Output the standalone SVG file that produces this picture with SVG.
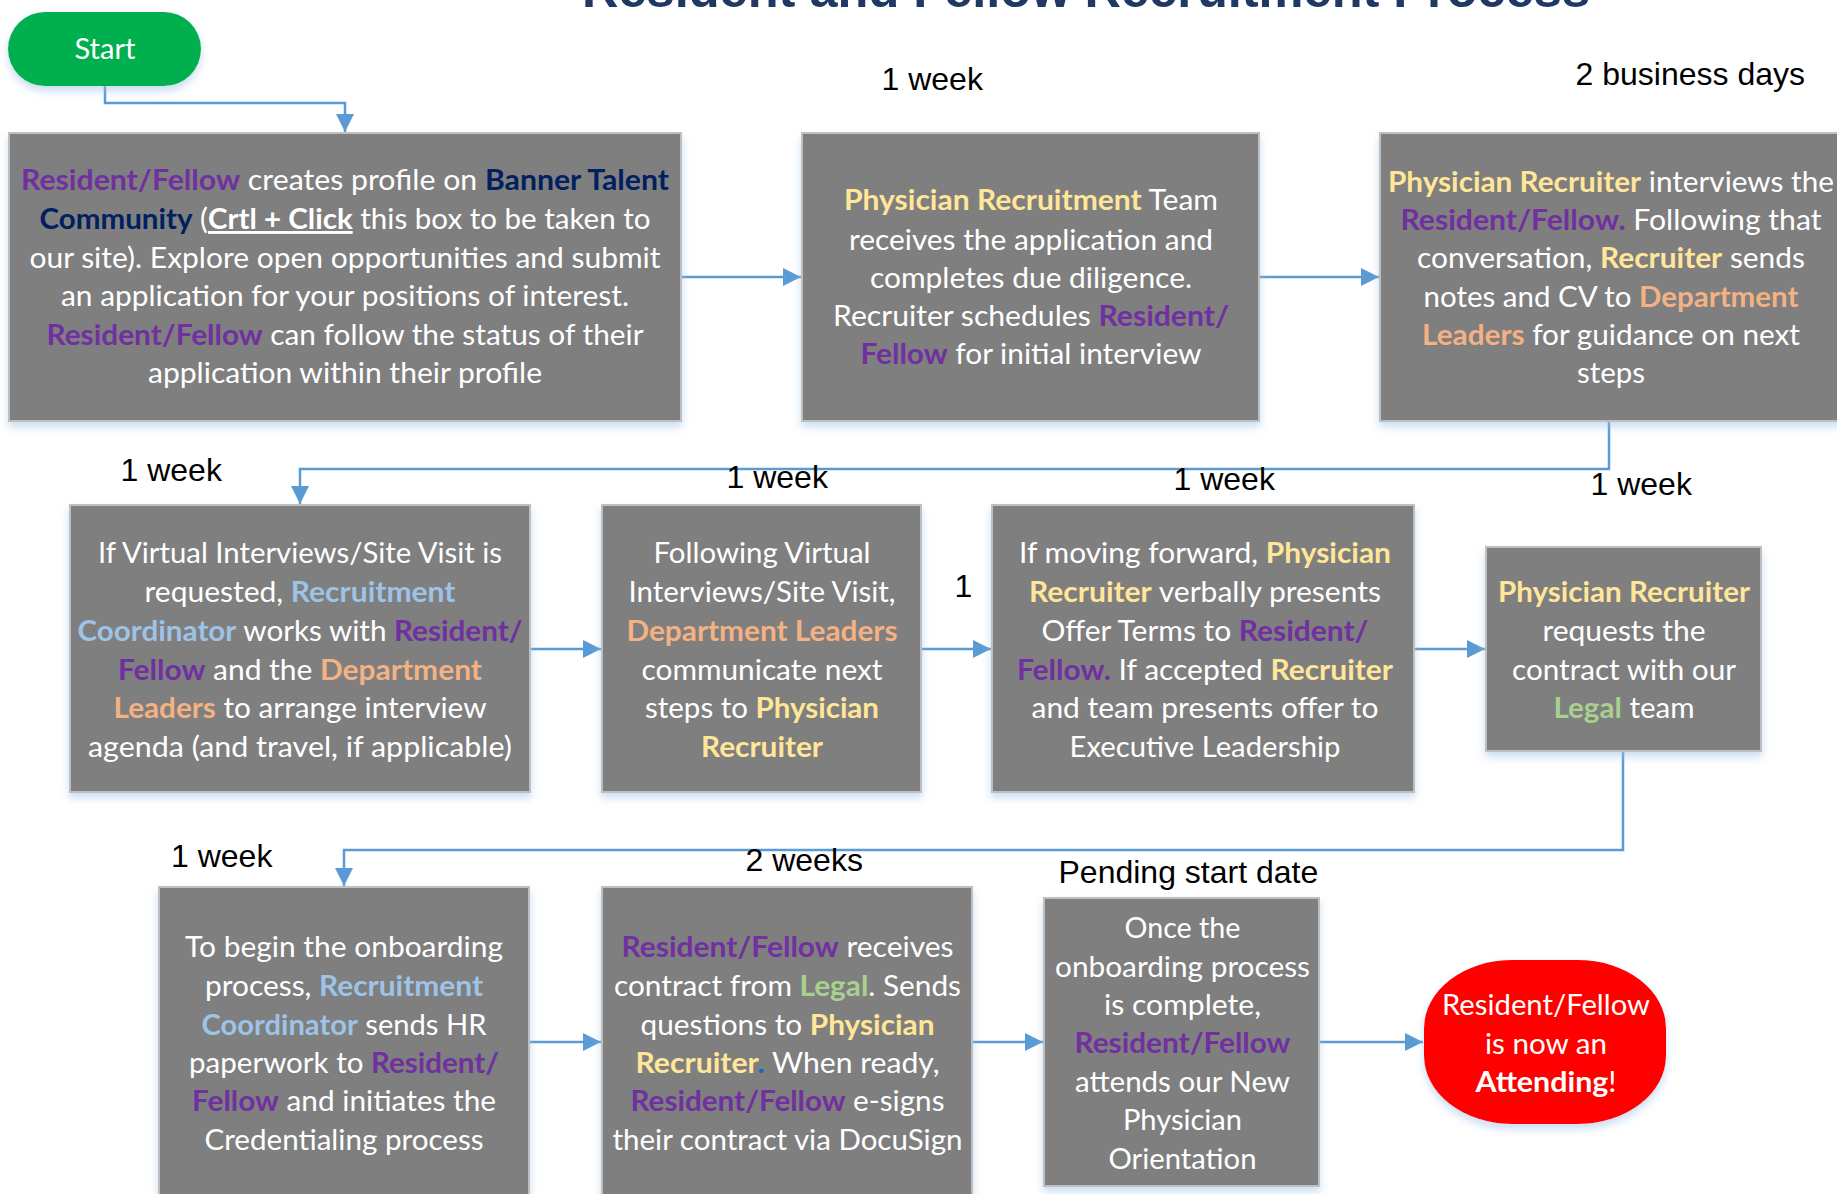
<svg xmlns="http://www.w3.org/2000/svg" width="1837" height="1194" viewBox="0 0 1837 1194">
<style>
.bg{fill:#fff}
.box{fill:#7F7F7F;stroke:#BFBFBF;stroke-width:2;filter:url(#sh)}
.t{font-family:Lato,'Noto Sans',sans-serif;font-size:29px;fill:#fff;text-anchor:middle}
.b{font-weight:bold}
.p{fill:#7030A0;font-weight:bold}
.n{fill:#002060;font-weight:bold}
.y{fill:#FFE699;font-weight:bold}
.o{fill:#F4B183;font-weight:bold}
.c{fill:#9DC3E6;font-weight:bold}
.g{fill:#A9D18E;font-weight:bold}
.bl{fill:#0070C0;font-weight:bold}
.u{text-decoration:underline;font-weight:bold}
.lbl{font-family:'Liberation Sans',Arial,sans-serif;font-size:32px;fill:#000}
.con{fill:none;stroke:#5B9BD5;stroke-width:2.5}
.title{font-family:'Liberation Sans',Arial,sans-serif;font-size:50px;font-weight:bold;fill:#1F3864}
</style>
<defs>
<filter id="sh" x="-10%" y="-10%" width="120%" height="130%">
<feDropShadow dx="0" dy="5" stdDeviation="4" flood-color="#9DC3E6" flood-opacity="0.55"/>
</filter>
<marker id="ah" markerUnits="userSpaceOnUse" markerWidth="18" markerHeight="18" refX="18" refY="9" orient="auto">
<path d="M0,0 L18,9 L0,18 z" fill="#5B9BD5"/>
</marker>
</defs>
<rect class="bg" x="0" y="0" width="1837" height="1194"/>
<text class="title" x="1086" y="7" text-anchor="middle" textLength="1008" lengthAdjust="spacingAndGlyphs">Resident and Fellow Recruitment Process</text>

<g id="connectors">
<path class="con" marker-end="url(#ah)" d="M105,86 V103 H345 V132"/>
<path class="con" marker-end="url(#ah)" d="M681,277 H801"/>
<path class="con" marker-end="url(#ah)" d="M1259,277 H1379"/>
<path class="con" marker-end="url(#ah)" d="M1609,421 V469 H300 V504"/>
<path class="con" marker-end="url(#ah)" d="M530,649 H601"/>
<path class="con" marker-end="url(#ah)" d="M921,649 H991"/>
<path class="con" marker-end="url(#ah)" d="M1414,649 H1485"/>
<path class="con" marker-end="url(#ah)" d="M1623,751 V850 H344 V886"/>
<path class="con" marker-end="url(#ah)" d="M529,1042 H601"/>
<path class="con" marker-end="url(#ah)" d="M972,1042 H1043"/>
<path class="con" marker-end="url(#ah)" d="M1319,1042 H1423"/>
</g>

<g id="labels">
<text class="lbl" x="881.5" y="90">1 week</text>
<text class="lbl" x="1575.5" y="85">2 business days</text>
<text class="lbl" x="120.5" y="481">1 week</text>
<text class="lbl" x="726.5" y="488">1 week</text>
<text class="lbl" x="954.5" y="597">1</text>
<text class="lbl" x="1173.5" y="490">1 week</text>
<text class="lbl" x="1590.5" y="495">1 week</text>
<text class="lbl" x="171" y="867">1 week</text>
<text class="lbl" x="745.5" y="871">2 weeks</text>
<text class="lbl" x="1058.5" y="883">Pending start date</text>
</g>

<g id="start">
<rect x="8" y="12" width="193" height="74" rx="37" ry="37" fill="#00B050" filter="url(#sh)"/>
<text class="t" x="105" y="59" textLength="61" lengthAdjust="spacingAndGlyphs">Start</text>
</g>

<g id="step1">
<rect class="box" x="9" y="133" width="672" height="288"/>
<text class="t" x="345" y="190" textLength="648" lengthAdjust="spacingAndGlyphs"><tspan class="p">Resident/Fellow</tspan> creates profile on <tspan class="n">Banner Talent</tspan></text>
<text class="t" x="345" y="229" textLength="611" lengthAdjust="spacingAndGlyphs"><tspan class="n">Community</tspan> (<tspan class="u">Crtl + Click</tspan> this box to be taken to</text>
<text class="t" x="345" y="268" textLength="631" lengthAdjust="spacingAndGlyphs">our site). Explore open opportunities and submit</text>
<text class="t" x="345" y="306" textLength="568" lengthAdjust="spacingAndGlyphs">an application for your positions of interest.</text>
<text class="t" x="345" y="345" textLength="597" lengthAdjust="spacingAndGlyphs"><tspan class="p">Resident/Fellow</tspan> can follow the status of their</text>
<text class="t" x="345" y="383" textLength="394" lengthAdjust="spacingAndGlyphs">application within their profile</text>
</g>

<g id="step2">
<rect class="box" x="802" y="133" width="457" height="288"/>
<text class="t" x="1031" y="210" textLength="374" lengthAdjust="spacingAndGlyphs"><tspan class="y">Physician Recruitment</tspan> Team</text>
<text class="t" x="1031" y="250" textLength="364" lengthAdjust="spacingAndGlyphs">receives the application and</text>
<text class="t" x="1031" y="288" textLength="322" lengthAdjust="spacingAndGlyphs">completes due diligence.</text>
<text class="t" x="1031" y="326" textLength="396" lengthAdjust="spacingAndGlyphs">Recruiter schedules  <tspan class="p">Resident/</tspan></text>
<text class="t" x="1031" y="364" textLength="341" lengthAdjust="spacingAndGlyphs"><tspan class="p">Fellow</tspan> for initial interview</text>
</g>

<g id="step3">
<rect class="box" x="1380" y="133" width="462" height="288"/>
<text class="t" x="1611" y="192" textLength="446" lengthAdjust="spacingAndGlyphs"><tspan class="y">Physician Recruiter</tspan> interviews the</text>
<text class="t" x="1611" y="230" textLength="421" lengthAdjust="spacingAndGlyphs"><tspan class="p">Resident/Fellow.</tspan> Following that</text>
<text class="t" x="1611" y="268" textLength="388" lengthAdjust="spacingAndGlyphs">conversation, <tspan class="y">Recruiter</tspan> sends</text>
<text class="t" x="1611" y="307" textLength="375" lengthAdjust="spacingAndGlyphs">notes and CV to <tspan class="o">Department</tspan></text>
<text class="t" x="1611" y="345" textLength="378" lengthAdjust="spacingAndGlyphs"><tspan class="o">Leaders</tspan> for guidance on next</text>
<text class="t" x="1611" y="383" textLength="68" lengthAdjust="spacingAndGlyphs">steps</text>
</g>

<g id="step4">
<rect class="box" x="70" y="505" width="460" height="287"/>
<text class="t" x="300" y="563" textLength="404" lengthAdjust="spacingAndGlyphs">If Virtual Interviews/Site Visit is</text>
<text class="t" x="300" y="602" textLength="311" lengthAdjust="spacingAndGlyphs">requested, <tspan class="c">Recruitment</tspan></text>
<text class="t" x="300" y="641" textLength="445" lengthAdjust="spacingAndGlyphs"><tspan class="c">Coordinator</tspan> works with <tspan class="p">Resident/</tspan></text>
<text class="t" x="300" y="680" textLength="364" lengthAdjust="spacingAndGlyphs"><tspan class="p">Fellow</tspan> and the <tspan class="o">Department</tspan></text>
<text class="t" x="300" y="718" textLength="373" lengthAdjust="spacingAndGlyphs"><tspan class="o">Leaders</tspan> to arrange interview</text>
<text class="t" x="300" y="757" textLength="424" lengthAdjust="spacingAndGlyphs">agenda (and travel, if applicable)</text>
</g>

<g id="step5">
<rect class="box" x="602" y="505" width="319" height="287"/>
<text class="t" x="762" y="563" textLength="217" lengthAdjust="spacingAndGlyphs">Following Virtual</text>
<text class="t" x="762" y="602" textLength="267" lengthAdjust="spacingAndGlyphs">Interviews/Site Visit,</text>
<text class="t" x="762" y="641" textLength="271" lengthAdjust="spacingAndGlyphs"><tspan class="o">Department Leaders</tspan></text>
<text class="t" x="762" y="680" textLength="241" lengthAdjust="spacingAndGlyphs">communicate next</text>
<text class="t" x="762" y="718" textLength="234" lengthAdjust="spacingAndGlyphs">steps to <tspan class="y">Physician</tspan></text>
<text class="t" x="762" y="757" textLength="122" lengthAdjust="spacingAndGlyphs"><tspan class="y">Recruiter</tspan></text>
</g>

<g id="step6">
<rect class="box" x="992" y="505" width="422" height="287"/>
<text class="t" x="1205" y="563" textLength="372" lengthAdjust="spacingAndGlyphs">If moving forward, <tspan class="y">Physician</tspan></text>
<text class="t" x="1205" y="602" textLength="352" lengthAdjust="spacingAndGlyphs"><tspan class="y">Recruiter</tspan> verbally presents</text>
<text class="t" x="1205" y="641" textLength="327" lengthAdjust="spacingAndGlyphs">Offer Terms to <tspan class="p">Resident/</tspan></text>
<text class="t" x="1205" y="680" textLength="376" lengthAdjust="spacingAndGlyphs"><tspan class="p">Fellow.</tspan> If accepted <tspan class="y">Recruiter</tspan></text>
<text class="t" x="1205" y="718" textLength="347" lengthAdjust="spacingAndGlyphs">and team presents offer to</text>
<text class="t" x="1205" y="757" textLength="271" lengthAdjust="spacingAndGlyphs">Executive Leadership</text>
</g>

<g id="step7">
<rect class="box" x="1486" y="547" width="275" height="204"/>
<text class="t" x="1624" y="602" textLength="252" lengthAdjust="spacingAndGlyphs"><tspan class="y">Physician Recruiter</tspan></text>
<text class="t" x="1624" y="641" textLength="163" lengthAdjust="spacingAndGlyphs">requests the</text>
<text class="t" x="1624" y="680" textLength="224" lengthAdjust="spacingAndGlyphs">contract with our</text>
<text class="t" x="1624" y="718" textLength="141" lengthAdjust="spacingAndGlyphs"><tspan class="g">Legal</tspan> team</text>
</g>

<g id="step8">
<rect class="box" x="159" y="887" width="370" height="320"/>
<text class="t" x="344" y="957" textLength="318" lengthAdjust="spacingAndGlyphs">To begin the onboarding</text>
<text class="t" x="344" y="996" textLength="278" lengthAdjust="spacingAndGlyphs">process, <tspan class="c">Recruitment</tspan></text>
<text class="t" x="344" y="1035" textLength="285" lengthAdjust="spacingAndGlyphs"><tspan class="c">Coordinator</tspan> sends HR</text>
<text class="t" x="344" y="1073" textLength="310" lengthAdjust="spacingAndGlyphs">paperwork to <tspan class="p">Resident/</tspan></text>
<text class="t" x="344" y="1111" textLength="304" lengthAdjust="spacingAndGlyphs"><tspan class="p">Fellow</tspan> and initiates the</text>
<text class="t" x="344" y="1150" textLength="279" lengthAdjust="spacingAndGlyphs">Credentialing process</text>
</g>

<g id="step9">
<rect class="box" x="602" y="887" width="370" height="320"/>
<text class="t" x="787.5" y="957" textLength="332" lengthAdjust="spacingAndGlyphs"><tspan class="p">Resident/Fellow</tspan> receives</text>
<text class="t" x="787.5" y="996" textLength="347" lengthAdjust="spacingAndGlyphs">contract from <tspan class="g">Legal</tspan>. Sends</text>
<text class="t" x="787.5" y="1035" textLength="294" lengthAdjust="spacingAndGlyphs">questions to <tspan class="y">Physician</tspan></text>
<text class="t" x="787.5" y="1073" textLength="304" lengthAdjust="spacingAndGlyphs"><tspan class="y">Recruiter</tspan><tspan class="bl">.</tspan> When ready,</text>
<text class="t" x="787.5" y="1111" textLength="314" lengthAdjust="spacingAndGlyphs"><tspan class="p">Resident/Fellow</tspan> e-signs</text>
<text class="t" x="787.5" y="1150" textLength="350" lengthAdjust="spacingAndGlyphs">their contract via DocuSign</text>
</g>

<g id="step10">
<rect class="box" x="1044" y="898" width="275" height="288"/>
<text class="t" x="1182.5" y="938" textLength="116" lengthAdjust="spacingAndGlyphs">Once the</text>
<text class="t" x="1182.5" y="977" textLength="255" lengthAdjust="spacingAndGlyphs">onboarding process</text>
<text class="t" x="1182.5" y="1015" textLength="157" lengthAdjust="spacingAndGlyphs">is complete,</text>
<text class="t" x="1182.5" y="1053" textLength="216" lengthAdjust="spacingAndGlyphs"><tspan class="p">Resident/Fellow</tspan></text>
<text class="t" x="1182.5" y="1092" textLength="215" lengthAdjust="spacingAndGlyphs">attends our New</text>
<text class="t" x="1182.5" y="1130" textLength="119" lengthAdjust="spacingAndGlyphs">Physician</text>
<text class="t" x="1182.5" y="1169" textLength="148" lengthAdjust="spacingAndGlyphs">Orientation</text>
</g>

<g id="end">
<rect x="1424" y="960" width="242" height="164" rx="88" ry="68" fill="#FF0000" filter="url(#sh)"/>
<text class="t" x="1546" y="1015" textLength="208" lengthAdjust="spacingAndGlyphs">Resident/Fellow</text>
<text class="t" x="1546" y="1054" textLength="122" lengthAdjust="spacingAndGlyphs">is now an</text>
<text class="t" x="1546" y="1092" textLength="141" lengthAdjust="spacingAndGlyphs"><tspan class="b">Attending</tspan>!</text>
</g>
</svg>
